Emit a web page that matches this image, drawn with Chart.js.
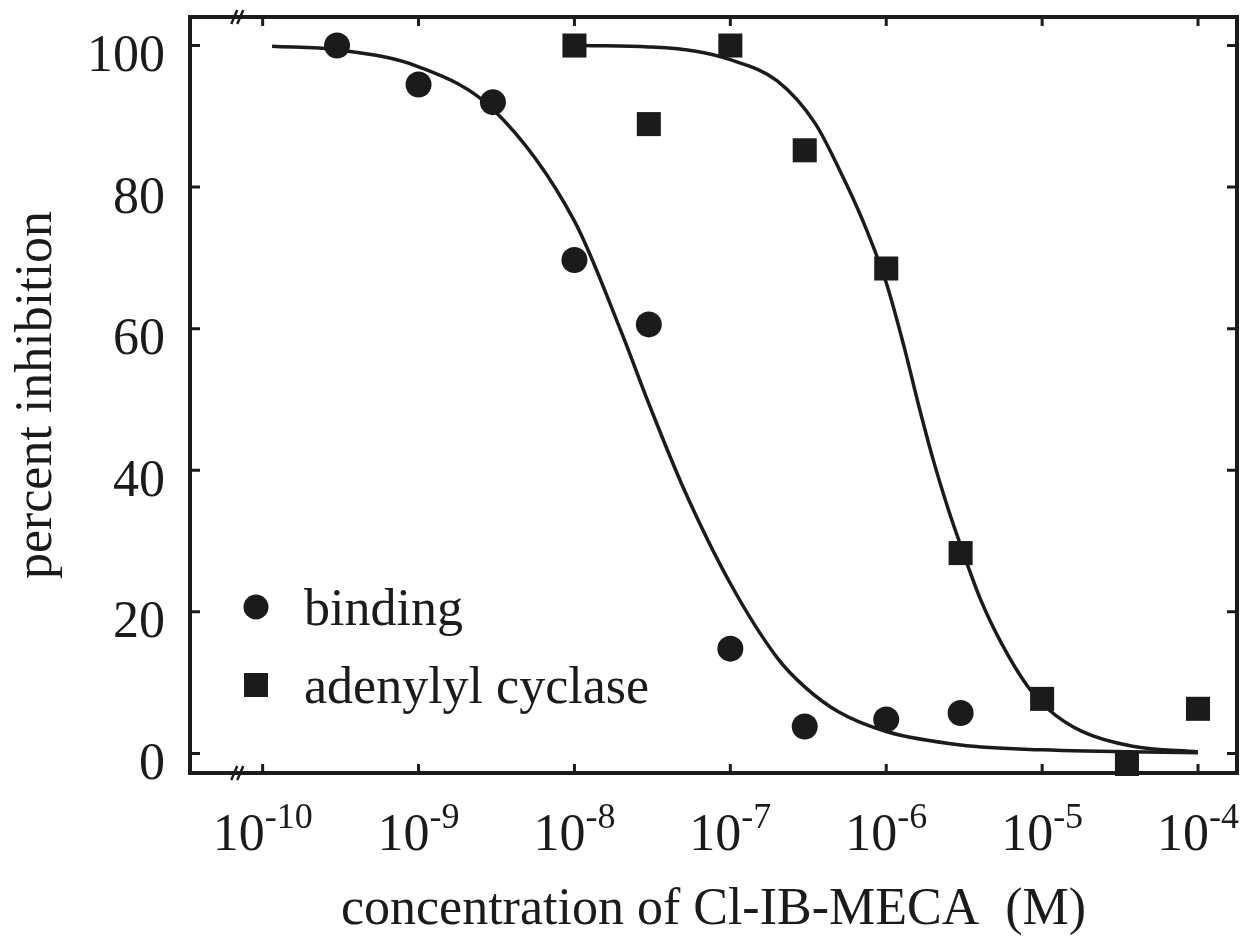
<!DOCTYPE html>
<html>
<head>
<meta charset="utf-8">
<script src="https://cdn.jsdelivr.net/npm/chart.js@4.4.0/dist/chart.umd.min.js"></script>
<style>
  html, body { margin: 0; padding: 0; background: #fff; }
  #wrap { width: 1255px; height: 952px; }
</style>
</head>
<body>
<div id="wrap"><canvas id="chart"></canvas></div>
<script>
const ink = '#1b1b1b';
const serif = '"Liberation Serif", "Times New Roman", serif';

/* measured points */
const bindingConc = [3e-10, 1e-9, 3e-9, 1e-8, 3e-8, 1e-7, 3e-7, 1e-6, 3e-6];
const bindingInhib = [100, 94.5, 92, 69.7, 60.6, 14.8, 3.8, 4.8, 5.7];
const cyclaseConc = [1e-8, 3e-8, 1e-7, 3e-7, 1e-6, 3e-6, 1e-5, 3.5e-5, 1e-4];
const cyclaseInhib = [100, 88.9, 100, 85.2, 68.5, 28.3, 7.7, -1.5, 6.3];

/* fitted curves */
const bindingFitConc = [1.15e-10, 3e-10, 1e-9, 3e-9, 1e-8, 2e-8, 3e-8, 5e-8, 1e-7, 2e-7, 3e-7, 5e-7, 1e-6, 3e-6, 1e-5, 1e-4];
const bindingFit = [99.9, 99.4, 97, 91, 75.2, 59.5, 49.4, 37.5, 24, 13.5, 9.4, 5.8, 3.1, 1.2, 0.5, 0.1];
const cyclaseFitConc = [1.15e-8, 3e-8, 6e-8, 1e-7, 2e-7, 3.5e-7, 5e-7, 7e-7, 1e-6, 1.3e-6, 1.6e-6, 2e-6, 2.5e-6, 3e-6, 4e-6, 5.5e-6, 8e-6, 1.1e-5, 1.8e-5, 3.8e-5, 1e-4];
const cyclaseFit = [100, 99.8, 99.2, 98, 95, 89, 82.5, 75.5, 66.5, 57.5, 49.5, 41.5, 34.5, 29.4, 21.9, 15.5, 9.6, 6.2, 3.1, 1, 0.2];

/* axes */
const yTicks = [0, 20, 40, 60, 80, 100];
const xDecades = [-10, -9, -8, -7, -6, -5, -4];
const legendLabels = ['binding', 'adenylyl cyclase'];
const xTitle = 'concentration of Cl-IB-MECA  (M)';
const yTitle = 'percent inhibition';

function pairs(xs, ys) {
  return xs.map((x, i) => ({ x: x, y: ys[i] }));
}

// frame, inward ticks, axis breaks, superscript labels and legend
const extras = {
  id: 'extras',
  beforeDatasetsDraw(chart) {
    const { ctx, chartArea: a, scales: { x, y } } = chart;
    ctx.save();
    ctx.strokeStyle = ink;
    ctx.lineWidth = 4;
    ctx.strokeRect(a.left, a.top, a.right - a.left, a.bottom - a.top);

    ctx.lineWidth = 3;
    ctx.beginPath();
    xDecades.forEach(d => {
      const px = x.getPixelForValue(Math.pow(10, d));
      ctx.moveTo(px, a.bottom); ctx.lineTo(px, a.bottom - 9);
      ctx.moveTo(px, a.top); ctx.lineTo(px, a.top + 9);
    });
    yTicks.forEach(v => {
      const py = y.getPixelForValue(v);
      ctx.moveTo(a.left, py); ctx.lineTo(a.left + 10, py);
      ctx.moveTo(a.right, py); ctx.lineTo(a.right - 10, py);
    });
    ctx.stroke();

    // axis break marks
    const bx = x.getPixelForValue(Math.pow(10, -10.15));
    ctx.lineWidth = 2.5;
    [a.top, a.bottom].forEach(yy => {
      ctx.beginPath();
      ctx.moveTo(bx - 8, yy + 7); ctx.lineTo(bx - 2, yy - 7);
      ctx.moveTo(bx - 2, yy + 7); ctx.lineTo(bx + 4, yy - 7);
      ctx.stroke();
    });
    ctx.restore();
  },
  afterDraw(chart) {
    const { ctx, chartArea: a, scales: { x } } = chart;
    ctx.save();
    ctx.fillStyle = ink;
    ctx.textBaseline = 'alphabetic';
    ctx.textAlign = 'left';
    const big = '52px ' + serif;
    const small = '36px ' + serif;
    xDecades.forEach(d => {
      const px = x.getPixelForValue(Math.pow(10, d));
      const exp = String(d);
      ctx.font = big;
      const w1 = ctx.measureText('10').width;
      ctx.font = small;
      const w2 = ctx.measureText(exp).width;
      const x0 = px - (w1 + w2) / 2;
      ctx.font = big;
      ctx.fillText('10', x0, a.bottom + 77);
      ctx.font = small;
      ctx.fillText(exp, x0 + w1, a.bottom + 55);
    });

    // legend inside the plot
    const lx = a.left + 66;
    const ly1 = a.bottom - 166;
    const ly2 = a.bottom - 88;
    ctx.beginPath();
    ctx.arc(lx, ly1, 12.5, 0, Math.PI * 2);
    ctx.fill();
    ctx.fillRect(lx - 12, ly2 - 12, 24, 24);
    ctx.font = big;
    ctx.fillText(legendLabels[0], lx + 48, ly1 + 18);
    ctx.fillText(legendLabels[1], lx + 48, ly2 + 18);
    ctx.restore();
  }
};

Chart.defaults.font.family = serif;
Chart.defaults.color = ink;

new Chart(document.getElementById('chart'), {
  type: 'scatter',
  data: {
    datasets: [
      {
        type: 'line',
        data: pairs(bindingFitConc, bindingFit),
        borderColor: ink,
        borderWidth: 3.5,
        pointRadius: 0,
        cubicInterpolationMode: 'monotone',
        fill: false
      },
      {
        type: 'line',
        data: pairs(cyclaseFitConc, cyclaseFit),
        borderColor: ink,
        borderWidth: 3.5,
        pointRadius: 0,
        cubicInterpolationMode: 'monotone',
        fill: false
      },
      {
        label: legendLabels[0],
        data: pairs(bindingConc, bindingInhib),
        pointStyle: 'circle',
        pointRadius: 13,
        backgroundColor: ink,
        borderColor: ink,
        borderWidth: 0,
        clip: false
      },
      {
        label: legendLabels[1],
        data: pairs(cyclaseConc, cyclaseInhib),
        pointStyle: 'rect',
        pointRadius: 17,
        backgroundColor: ink,
        borderColor: ink,
        borderWidth: 0,
        clip: false
      }
    ]
  },
  options: {
    responsive: true,
    maintainAspectRatio: false,
    animation: false,
    layout: { padding: { top: 13, right: 18 } },
    plugins: {
      legend: { display: false },
      tooltip: { enabled: false }
    },
    scales: {
      x: {
        type: 'logarithmic',
        min: Math.pow(10, -10.466),
        max: Math.pow(10, -3.75),
        grid: { display: false },
        border: { display: false },
        ticks: { display: false },
        afterFit(scale) {
          scale.height = 179;
          scale.paddingLeft = 0;
          scale.paddingRight = 0;
        },
        title: {
          display: true,
          text: xTitle,
          font: { size: 52, family: serif },
          color: ink,
          padding: { top: 0, bottom: 10 }
        }
      },
      y: {
        min: -2.77,
        max: 104.03,
        afterBuildTicks(scale) { scale.ticks = yTicks.map(v => ({ value: v })); },
        grid: { display: false, drawTicks: false },
        border: { display: false },
        ticks: {
          font: { size: 52, family: serif },
          color: ink,
          padding: 25,
          labelOffset: 12
        },
        afterFit(scale) {
          scale.width = 190;
          scale.paddingTop = 0;
          scale.paddingBottom = 0;
        },
        title: {
          display: true,
          text: yTitle,
          font: { size: 52, family: serif },
          color: ink,
          padding: { top: 6, bottom: 0 }
        }
      }
    }
  },
  plugins: [extras]
});
</script>
</body>
</html>
